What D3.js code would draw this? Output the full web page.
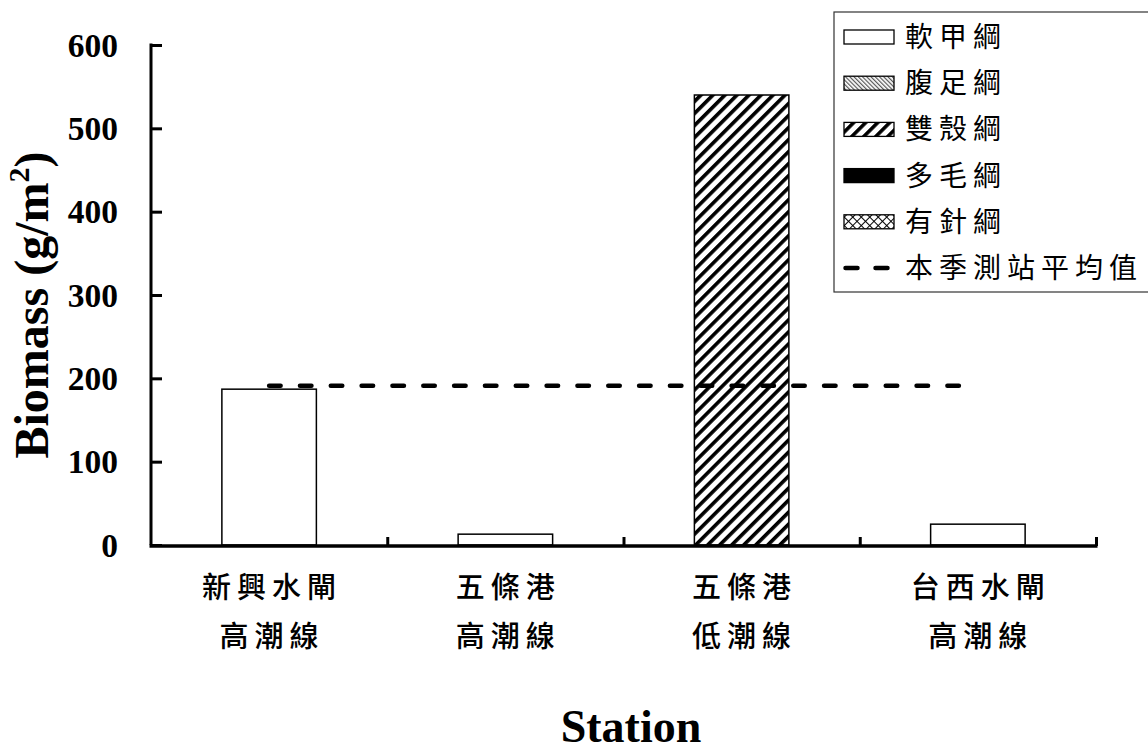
<!DOCTYPE html>
<html><head><meta charset="utf-8">
<script src="https://cdn.jsdelivr.net/npm/d3@7"></script>
<style>
html,body{margin:0;padding:0;background:#fff;}
svg{display:block;}
</style></head>
<body>
<svg id="chart" width="1148" height="749"></svg>
<script>
// ---- data ----
const stationsLine1 = ["新興水閘", "五條港", "五條港", "台西水閘"];
const stationsLine2 = ["高潮線", "高潮線", "低潮線", "高潮線"];
const seriesNames = ["軟甲綱", "腹足綱", "雙殼綱", "多毛綱", "有針綱"];
const malacostraca = [187, 13, 0, 25];
const gastropoda   = [0, 0, 0, 0];
const bivalvia     = [0, 0, 540, 0];
const polychaeta   = [0, 0, 0, 0];
const sipuncula    = [0, 0, 0, 0];
const seasonMean = 191;
const meanLabel = "本季測站平均值";
const yTicks = [0, 100, 200, 300, 400, 500, 600];
const yTitle = "Biomass (g/m";
const xTitle = "Station";

const svg = d3.select("#chart");
const margin = {left: 151, right: 1096, top: 45, bottom: 545};

const keys = ["c0","c1","c2","c3","c4"];
const seriesArrays = [malacostraca, gastropoda, bivalvia, polychaeta, sipuncula];
const rows = stationsLine1.map((s, i) => {
  const r = {idx: i};
  keys.forEach((k, j) => r[k] = seriesArrays[j][i]);
  return r;
});

const x = d3.scaleBand().domain(d3.range(stationsLine1.length)).range([margin.left, margin.right]).padding(0);
const y = d3.scaleLinear().domain([0, 600]).range([margin.bottom, margin.top]);
const barW = x.bandwidth() * 0.4;

// patterns
const defs = svg.append("defs");
const pg = defs.append("pattern").attr("id","p1").attr("patternUnits","userSpaceOnUse")
  .attr("width",3).attr("height",3).attr("patternTransform","rotate(-45)");
pg.append("rect").attr("width",3).attr("height",3).attr("fill","#fff");
pg.append("rect").attr("width",1.2).attr("height",3).attr("fill","#555");
const pb = defs.append("pattern").attr("id","p2").attr("patternUnits","userSpaceOnUse")
  .attr("width",8.5).attr("height",8.5).attr("patternTransform","rotate(45)");
pb.append("rect").attr("width",8.5).attr("height",8.5).attr("fill","#fff");
pb.append("rect").attr("width",3.6).attr("height",8.5).attr("fill","#000");
const pc = defs.append("pattern").attr("id","p4").attr("patternUnits","userSpaceOnUse")
  .attr("width",6).attr("height",6).attr("patternTransform","rotate(45)");
pc.append("rect").attr("width",6).attr("height",6).attr("fill","#fff");
pc.append("rect").attr("width",1).attr("height",6).attr("fill","#000");
pc.append("rect").attr("width",6).attr("height",1).attr("fill","#000");
const fills = ["#fff", "url(#p1)", "url(#p2)", "#000", "url(#p4)"];

// bars
const stack = d3.stack().keys(keys)(rows);
stack.forEach((layer, li) => {
  svg.append("g").selectAll("rect").data(layer.filter(d => d[1] - d[0] > 0)).join("rect")
    .attr("x", d => x(d.data.idx) + x.bandwidth()/2 - barW/2)
    .attr("width", barW)
    .attr("y", d => y(d[1]))
    .attr("height", d => y(d[0]) - y(d[1]))
    .attr("fill", fills[li])
    .attr("stroke", "#000").attr("stroke-width", 1.5);
});

// mean line
const meanData = stationsLine1.map((s, i) => ({i, v: seasonMean}));
svg.append("path").datum(meanData)
  .attr("d", d3.line().x(d => x(d.i) + x.bandwidth()/2).y(d => y(d.v)))
  .attr("fill","none").attr("stroke","#000").attr("stroke-width",4.5)
  .attr("stroke-dasharray","11.5 19.33").attr("stroke-linecap","round");

// y axis
const yAxis = svg.append("g").attr("transform", `translate(${margin.left},0)`)
  .call(d3.axisRight(y).tickValues(yTicks).tickSize(11).tickFormat(""));
yAxis.select(".domain").attr("d", `M0,${margin.bottom}V${margin.top - 1.5}`).attr("stroke-width",3);
yAxis.selectAll(".tick line").attr("stroke-width",3);
svg.append("g").selectAll("text").data(yTicks).join("text")
  .attr("x", 118).attr("y", d => y(d)).attr("dy","0.35em")
  .attr("text-anchor","end")
  .attr("font-family","'Liberation Serif', 'Times New Roman', serif")
  .attr("font-weight","bold").attr("font-size",33.5)
  .text(d => d);

// x axis
const xb = d3.scaleLinear().domain([0, stationsLine1.length]).range([margin.left, margin.right]);
const xAxis = svg.append("g").attr("transform", `translate(0,${margin.bottom + 1})`)
  .call(d3.axisTop(xb).tickValues(d3.range(1, stationsLine1.length + 1)).tickSize(9).tickFormat(""));
xAxis.select(".domain").attr("d", `M${margin.left - 1.5},0H${margin.right + 1.5}`).attr("stroke-width",3.5);
xAxis.selectAll(".tick line").attr("stroke-width",3);

const cjk = "'Noto Sans CJK TC', 'Noto Sans CJK SC', sans-serif";
const xl = svg.append("g");
stationsLine1.forEach((s, i) => {
  const cx = x(i) + x.bandwidth()/2 + 3;
  xl.append("text").attr("x", cx).attr("y", 588).attr("dy","0.36em")
    .attr("text-anchor","middle").attr("font-family", cjk).attr("font-weight", 500)
    .attr("font-size", 29).attr("letter-spacing", 6).text(s);
  xl.append("text").attr("x", cx).attr("y", 637).attr("dy","0.36em")
    .attr("text-anchor","middle").attr("font-family", cjk).attr("font-weight", 500)
    .attr("font-size", 29).attr("letter-spacing", 6).text(stationsLine2[i]);
});

// axis titles
svg.append("text").attr("x", 631).attr("y", 742).attr("text-anchor","middle")
  .attr("font-family","'Liberation Serif', 'Times New Roman', serif").attr("font-weight","bold")
  .attr("font-size",46).text(xTitle);
const yt = svg.append("text").attr("transform","translate(48,305) rotate(-90)")
  .attr("text-anchor","middle")
  .attr("font-family","'Liberation Serif', 'Times New Roman', serif").attr("font-weight","bold")
  .attr("font-size",48);
yt.append("tspan").text(yTitle);
yt.append("tspan").attr("font-size",30).attr("dy",-19).text("2");
yt.append("tspan").attr("dy",19).text(")");

// legend
const lg = svg.append("g");
lg.append("rect").attr("x",834).attr("y",12).attr("width",340).attr("height",280)
  .attr("fill","#fff").attr("stroke","#333").attr("stroke-width",1.2);
const legY = d3.scalePoint().domain(d3.range(6)).range([37, 268]);
seriesNames.forEach((n, i) => {
  lg.append("rect").attr("x",844).attr("y",legY(i)-7).attr("width",50).attr("height",14)
    .attr("fill", fills[i]).attr("stroke","#000").attr("stroke-width",1.3);
  lg.append("text").attr("x",905).attr("y",legY(i)).attr("dy","0.36em")
    .attr("font-family", cjk).attr("font-size",28).attr("letter-spacing",6).text(n);
});
lg.append("line").attr("x1",845.5).attr("x2",894).attr("y1",legY(5)).attr("y2",legY(5))
  .attr("stroke","#000").attr("stroke-width",4.5)
  .attr("stroke-dasharray","12 18").attr("stroke-linecap","round");
lg.append("text").attr("x",905).attr("y",legY(5)).attr("dy","0.36em")
  .attr("font-family", cjk).attr("font-size",28).attr("letter-spacing",6).text(meanLabel);
</script>
</body></html>
